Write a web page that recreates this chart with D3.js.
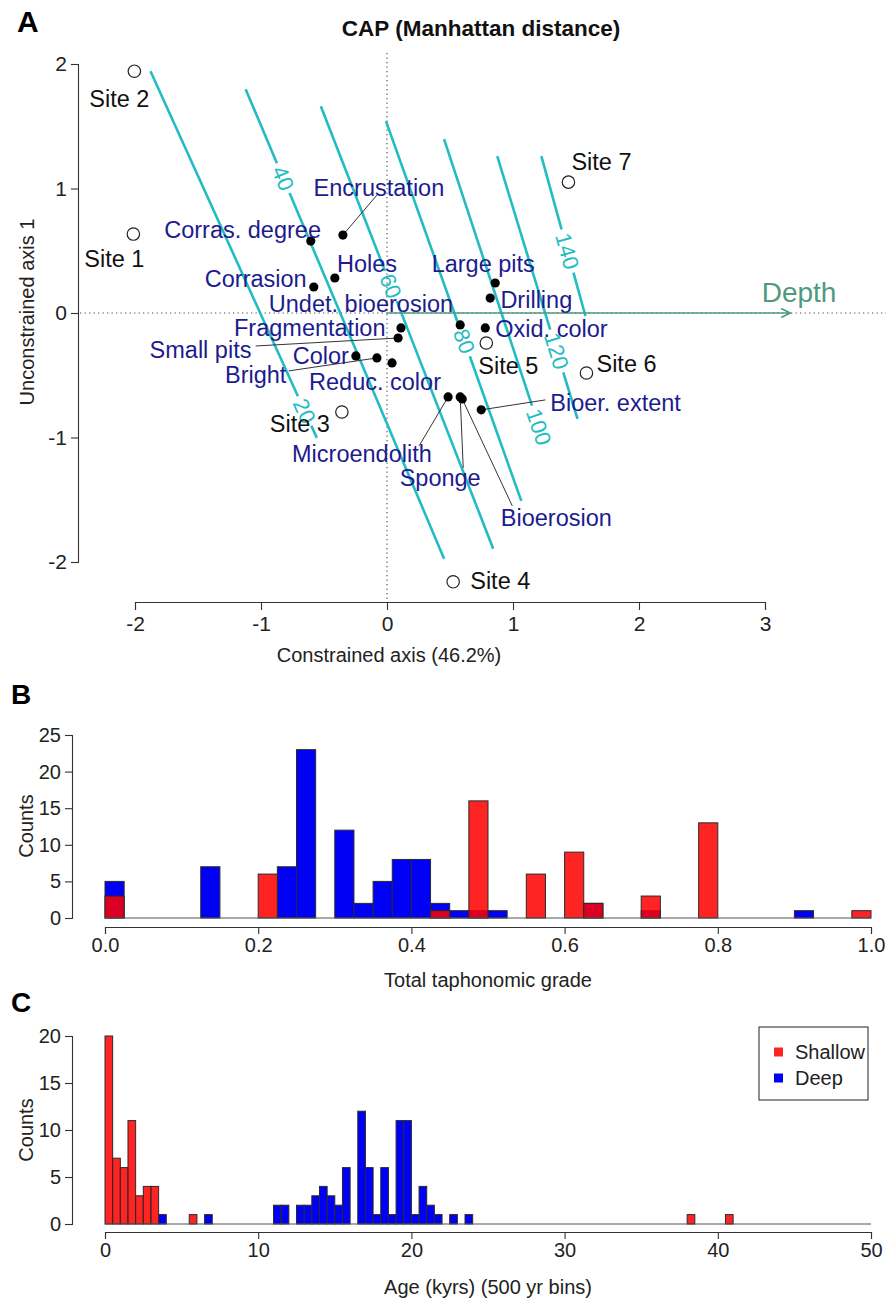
<!DOCTYPE html>
<html><head><meta charset="utf-8">
<script src="https://cdn.jsdelivr.net/npm/d3@7"></script>
<style>
body{margin:0;background:#fff}
svg{display:block}
text{font-family:"Liberation Sans", Arial, sans-serif}
</style>
</head><body>
<svg id="c" width="888" height="1300"></svg>
<script>
// ---------------- Panel A data ----------------
const siteNames = ["Site 1","Site 2","Site 3","Site 4","Site 5","Site 6","Site 7"];
const siteX = [-2.013,-2.005,-0.358,0.525,0.788,1.583,1.440];
const siteY = [0.634,1.942,-0.795,-2.159,-0.241,-0.482,1.051];
const siteLabelX = [-2.164,-2.124,-0.692,0.899,0.963,1.901,1.702];
const siteLabelY = [0.441,1.726,-0.891,-2.151,-0.425,-0.409,1.220];

const speciesNames = ["Encrustation","Corras. degree","Holes","Corrasion","Undet. bioerosion","Fragmentation",
  "Small pits","Color","Bright","Reduc. color","Large pits","Drilling","Oxid. color","Microendolith",
  "Sponge","Bioerosion","Bioer. extent"];
const speciesX = [-0.350,-0.605,-0.414,-0.581,0.581,0.111,0.088,-0.247,-0.080,0.040,0.859,0.819,0.780,0.485,0.581,0.597,0.748];
const speciesY = [0.626,0.578,0.281,0.209,-0.096,-0.120,-0.201,-0.345,-0.361,-0.401,0.241,0.120,-0.120,-0.674,-0.674,-0.690,-0.778];
const speciesLabelX = [-0.064,-1.146,-0.159,-1.042,-0.207,-0.613,-1.480,-0.525,-1.042,-0.095,0.764,1.185,1.305,-0.199,0.422,1.344,1.814];
const speciesLabelY = [1.011,0.674,0.401,0.273,0.072,-0.118,-0.297,-0.345,-0.498,-0.554,0.401,0.112,-0.128,-1.132,-1.324,-1.645,-0.722];

const leaderSpecies = ["Encrustation","Small pits","Bright","Microendolith","Sponge","Bioerosion","Bioer. extent"];
const leaderEndX = [-0.080,-1.042,-0.780,0.255,0.605,0.994,1.257];
const leaderEndY = [0.947,-0.265,-0.465,-1.067,-1.244,-1.549,-0.698];

const contourLevels = [20,40,60,80,100,120,140];
const contourStartX = [-1.877,-1.122,-0.525,-0.008,0.453,0.875,1.225];
const contourStartY = [1.942,1.798,1.661,1.541,1.396,1.260,1.260];
const contourEndX = [-0.557,0.453,0.843,1.066,1.257,1.512,1.575];
const contourEndY = [-1.003,-1.974,-1.894,-1.509,-1.070,-0.851,-0.024];
const contourLabelY = [-0.787,1.083,0.217,-0.225,-0.915,-0.305,0.498];

const depthArrowX = 3.2;
const xTicksA = [-2,-1,0,1,2,3];
const yTicksA = [-2,-1,0,1,2];

// ---------------- Panel B data ----------------
const gradeBinWidth = 0.025;
const gradeDeep =    [5,0,0,0,0,7,0,0,0,7,23,0,12,2,5,8,8,2,1,1,1,0,0,0,0,2,0,0,1,0,0,0,0,0,0,0,1,0,0,0];
const gradeShallow = [3,0,0,0,0,0,0,0,6,0,0,0,0,0,0,0,0,1,0,16,0,0,6,0,9,2,0,0,3,0,0,13,0,0,0,0,0,0,0,1];
const gradeTicks = [0,0.2,0.4,0.6,0.8,1.0];
const countTicksB = [0,5,10,15,20,25];

// ---------------- Panel C data ----------------
const ageBinWidth = 0.5;
const shallowAgeBins = [0,0.5,1,1.5,2,2.5,3,5.5,38,40.5];
const shallowAgeCounts = [20,7,6,11,3,4,4,1,1,1];
const deepAgeBins = [3.5,6.5,11,11.5,12.5,13,13.5,14,14.5,15,15.5,16.5,17,17.5,18,18.5,19,19.5,20,20.5,21,21.5,22.5,23.5];
const deepAgeCounts = [1,1,2,2,2,2,3,4,3,2,6,12,6,1,6,1,11,11,1,4,2,1,1,1];
const ageTicks = [0,10,20,30,40,50];
const countTicksC = [0,5,10,15,20];
const legendNames = ["Shallow","Deep"];

// ---------------- styles ----------------
const RED = "rgba(255,0,0,0.86)";
const BLUE = "#0000f5";
const NAVY = "#1c1c8e";
const CYAN = "#22bcc2";
const DEPTHC = "#4e9a80";
const AXC = "#333";

const svg = d3.select("#c");

function styleAxis(g, fs){
  g.select(".domain").attr("stroke", AXC).attr("stroke-width",1.1);
  g.selectAll(".tick line").attr("stroke", AXC).attr("stroke-width",1.1);
  g.selectAll(".tick text").attr("font-size", fs).attr("fill","#222").attr("font-family",'"Liberation Sans", Arial, sans-serif');
}

// ================= Panel A =================
const xA = d3.scaleLinear().domain([-2,3]).range([135,765]);
const yA = d3.scaleLinear().domain([-2,2]).range([562,64]);
const A = svg.append("g");

A.append("text").attr("x",17).attr("y",32).attr("font-size",30).attr("font-weight","bold").text("A");
A.append("text").attr("x",481).attr("y",36).attr("text-anchor","middle").attr("font-size",22.5).attr("font-weight","bold").attr("fill","#111").text("CAP (Manhattan distance)");

// dotted reference lines
A.append("line").attr("x1",80).attr("x2",886).attr("y1",yA(0)).attr("y2",yA(0))
  .attr("stroke","#555").attr("stroke-width",1.2).attr("stroke-dasharray","1.3,3.2");
A.append("line").attr("x1",xA(0)).attr("x2",xA(0)).attr("y1",53).attr("y2",600)
  .attr("stroke","#555").attr("stroke-width",1.2).attr("stroke-dasharray","1.3,3.2");

// contours
contourLevels.forEach((lev,i)=>{
  const p0=[xA(contourStartX[i]),yA(contourStartY[i])], p1=[xA(contourEndX[i]),yA(contourEndY[i])];
  const dx=p1[0]-p0[0], dy=p1[1]-p0[1], L=Math.hypot(dx,dy), u=[dx/L,dy/L];
  const t=(yA(contourLabelY[i])-p0[1])/dy;
  const c=[p0[0]+t*dx,p0[1]+t*dy];
  const fs=22, w=String(lev).length*0.556*fs, g=w/2+4;
  const tl=t*L;
  if(tl-g>0) A.append("line").attr("x1",p0[0]).attr("y1",p0[1]).attr("x2",c[0]-u[0]*g).attr("y2",c[1]-u[1]*g)
     .attr("stroke",CYAN).attr("stroke-width",2.6);
  if(tl+g<L) A.append("line").attr("x1",c[0]+u[0]*g).attr("y1",c[1]+u[1]*g).attr("x2",p1[0]).attr("y2",p1[1])
     .attr("stroke",CYAN).attr("stroke-width",2.6);
  const ang=Math.atan2(dy,dx)*180/Math.PI;
  A.append("text").attr("transform",`translate(${c[0]},${c[1]}) rotate(${ang})`)
    .attr("text-anchor","middle").attr("dy","0.36em").attr("font-size",fs).attr("fill",CYAN).text(lev);
});

// depth arrow
{
  const x0=xA(0), x1=xA(depthArrowX), y0=yA(0);
  A.append("line").attr("x1",x0).attr("x2",x1).attr("y1",y0).attr("y2",y0).attr("stroke",DEPTHC).attr("stroke-width",1.6);
  A.append("path").attr("d",`M${x1-9},${y0-4.5}L${x1},${y0}L${x1-9},${y0+4.5}`).attr("fill","none").attr("stroke",DEPTHC).attr("stroke-width",1.6);
  A.append("text").attr("x",xA(3.27)).attr("y",yA(0.17)).attr("dy","0.36em").attr("text-anchor","middle")
    .attr("font-size",28).attr("fill",DEPTHC).text("Depth");
}

// leaders
leaderSpecies.forEach((nm,i)=>{
  const k=speciesNames.indexOf(nm);
  A.append("line").attr("x1",xA(speciesX[k])).attr("y1",yA(speciesY[k])).attr("x2",xA(leaderEndX[i])).attr("y2",yA(leaderEndY[i]))
    .attr("stroke","#333").attr("stroke-width",1);
});

// species points and labels
A.selectAll("circle.sp").data(speciesNames).join("circle").attr("class","sp")
  .attr("cx",(d,i)=>xA(speciesX[i])).attr("cy",(d,i)=>yA(speciesY[i])).attr("r",4.6).attr("fill","#000");
A.selectAll("text.sp").data(speciesNames).join("text").attr("class","sp")
  .attr("x",(d,i)=>xA(speciesLabelX[i])).attr("y",(d,i)=>yA(speciesLabelY[i])).attr("dy","0.36em")
  .attr("text-anchor","middle").attr("font-size",23.5).attr("fill",NAVY).text(d=>d);

// sites
A.selectAll("circle.site").data(siteNames).join("circle").attr("class","site")
  .attr("cx",(d,i)=>xA(siteX[i])).attr("cy",(d,i)=>yA(siteY[i])).attr("r",6.2)
  .attr("fill","none").attr("stroke","#222").attr("stroke-width",1.2);
A.selectAll("text.site").data(siteNames).join("text").attr("class","site")
  .attr("x",(d,i)=>xA(siteLabelX[i])).attr("y",(d,i)=>yA(siteLabelY[i])).attr("dy","0.36em")
  .attr("text-anchor","middle").attr("font-size",23.5).attr("fill","#111").text(d=>d);

// axes
{
  const gx=A.append("g").attr("transform","translate(0,602)")
    .call(d3.axisBottom(xA).tickValues(xTicksA).tickSize(8).tickSizeOuter(8).tickPadding(6).tickFormat(d=>String(d)));
  styleAxis(gx,21);
  const gy=A.append("g").attr("transform","translate(78,0)")
    .call(d3.axisLeft(yA).tickValues(yTicksA).tickSize(7).tickSizeOuter(7).tickPadding(4).tickFormat(d=>String(d)));
  styleAxis(gy,21);
  A.append("text").attr("x",389).attr("y",662).attr("text-anchor","middle").attr("font-size",20).attr("fill","#222").text("Constrained axis (46.2%)");
  A.append("text").attr("transform","translate(34,312) rotate(-90)").attr("text-anchor","middle").attr("font-size",20).attr("fill","#222").text("Unconstrained axis 1");
}

// ================= Panel B =================
const xB = d3.scaleLinear().domain([0,1]).range([105,871]);
const yB = d3.scaleLinear().domain([0,25]).range([918,735]);
const B = svg.append("g");
B.append("text").attr("x",11).attr("y",704).attr("font-size",28).attr("font-weight","bold").text("B");
function barsB(arr, fill){
  B.append("g").selectAll("rect").data(arr.map((v,i)=>({v,i})).filter(d=>d.v>0)).join("rect")
    .attr("x",d=>xB(d.i*gradeBinWidth)).attr("width",d=>xB((d.i+1)*gradeBinWidth)-xB(d.i*gradeBinWidth))
    .attr("y",d=>yB(d.v)).attr("height",d=>yB(0)-yB(d.v))
    .attr("fill",fill).attr("stroke","#2a2a2a").attr("stroke-width",1);
}
barsB(gradeDeep, BLUE);
barsB(gradeShallow, RED);
B.append("line").attr("x1",xB(0)).attr("x2",xB(1)).attr("y1",yB(0)).attr("y2",yB(0)).attr("stroke","#555").attr("stroke-width",1.2);
{
  const gx=B.append("g").attr("transform","translate(0,927)")
    .call(d3.axisBottom(xB).tickValues(gradeTicks).tickSize(7).tickSizeOuter(7).tickPadding(4).tickFormat(d3.format(".1f")));
  styleAxis(gx,20);
  const gy=B.append("g").attr("transform","translate(72,0)")
    .call(d3.axisLeft(yB).tickValues(countTicksB).tickSize(7).tickSizeOuter(7).tickPadding(4));
  styleAxis(gy,20);
  B.append("text").attr("x",488).attr("y",987).attr("text-anchor","middle").attr("font-size",20).attr("fill","#222").text("Total taphonomic grade");
  B.append("text").attr("transform","translate(33,826) rotate(-90)").attr("text-anchor","middle").attr("font-size",20).attr("fill","#222").text("Counts");
}

// ================= Panel C =================
const xC = d3.scaleLinear().domain([0,50]).range([105,871]);
const yC = d3.scaleLinear().domain([0,20]).range([1224,1036]);
const C = svg.append("g");
C.append("text").attr("x",11).attr("y",1012).attr("font-size",28).attr("font-weight","bold").text("C");
function barsC(bins, counts, fill){
  C.append("g").selectAll("rect").data(bins.map((b,i)=>({b,v:counts[i]}))).join("rect")
    .attr("x",d=>xC(d.b)).attr("width",d=>xC(d.b+ageBinWidth)-xC(d.b))
    .attr("y",d=>yC(d.v)).attr("height",d=>yC(0)-yC(d.v))
    .attr("fill",fill).attr("stroke","#2a2a2a").attr("stroke-width",1);
}
barsC(deepAgeBins, deepAgeCounts, BLUE);
barsC(shallowAgeBins, shallowAgeCounts, RED);
C.append("line").attr("x1",xC(0)).attr("x2",xC(50)).attr("y1",yC(0)).attr("y2",yC(0)).attr("stroke","#555").attr("stroke-width",1.2);
{
  const gx=C.append("g").attr("transform","translate(0,1232)")
    .call(d3.axisBottom(xC).tickValues(ageTicks).tickSize(7).tickSizeOuter(7).tickPadding(4).tickFormat(d=>String(d)));
  styleAxis(gx,20);
  const gy=C.append("g").attr("transform","translate(72,0)")
    .call(d3.axisLeft(yC).tickValues(countTicksC).tickSize(7).tickSizeOuter(7).tickPadding(4));
  styleAxis(gy,20);
  C.append("text").attr("x",488).attr("y",1294).attr("text-anchor","middle").attr("font-size",20).attr("fill","#222").text("Age (kyrs) (500 yr bins)");
  C.append("text").attr("transform","translate(33,1130) rotate(-90)").attr("text-anchor","middle").attr("font-size",20).attr("fill","#222").text("Counts");
  // legend
  const lg=C.append("g");
  lg.append("rect").attr("x",759).attr("y",1027).attr("width",109).attr("height",73).attr("fill","#fff").attr("stroke","#222").attr("stroke-width",1);
  const lfill=[RED,BLUE];
  legendNames.forEach((nm,i)=>{
    const cy=1052+i*26;
    lg.append("rect").attr("x",774).attr("y",cy-4.5).attr("width",9).attr("height",9).attr("fill",lfill[i]);
    lg.append("text").attr("x",795).attr("y",cy).attr("dy","0.36em").attr("font-size",20).attr("fill","#222").text(nm);
  });
}
</script>
</body></html>
